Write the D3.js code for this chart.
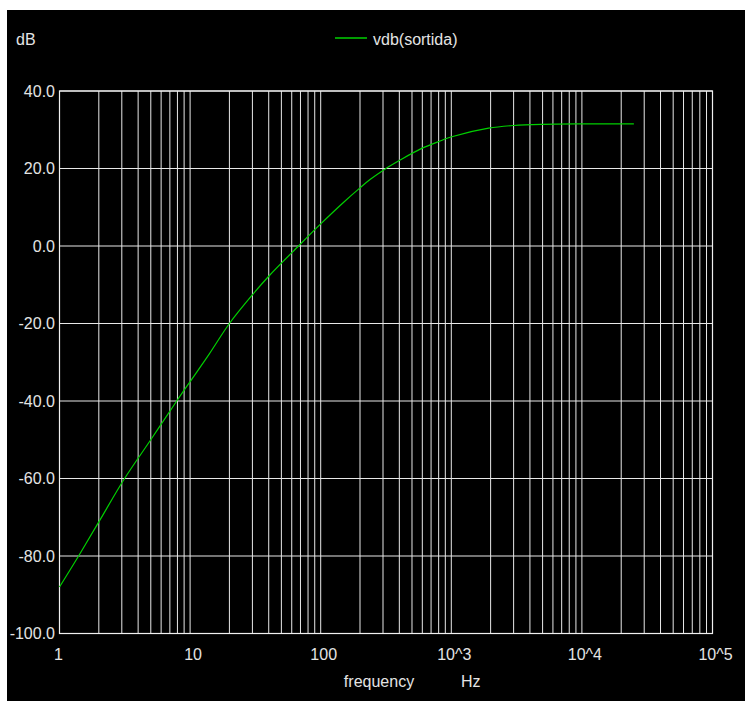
<!DOCTYPE html>
<html lang="en">
<head>
    <meta charset="UTF-8">
    <title>vdb(sortida)</title>
    <style>
        body {
            margin: 0;
            background-color: white;
        }
        text {
            font-family: "Liberation Sans", Arial, sans-serif;
            font-size: 16px;
            fill: #e4e4e4;
        }
        .grid {
            stroke: #e8e8e8;
            stroke-width: 1px;
        }
        .frame {
            fill: none;
            stroke: #f0f0f0;
            stroke-width: 1.2px;
        }
        .trace {
            fill: none;
            stroke: #00d000;
            stroke-width: 1.2px;
        }
    </style>
    <script src="https://d3js.org/d3.v7.min.js"></script>
</head>
<body>
    <script>
        // frequency response
        const freq = [1, 1.4, 2, 3.15, 5, 7.9, 10, 14, 20, 30, 40, 67.6, 100, 150, 200, 240, 312, 406, 578, 822, 1010, 1930, 3000, 5000, 10000, 25000];
        const vdb = [-88, -80, -71.2, -60, -50, -40, -35, -27.9, -20, -12.6, -7.8, 0, 5.7, 11.3, 15.0, 17.2, 19.9, 22.2, 25.0, 27.1, 28.2, 30.4, 31.1, 31.4, 31.5, 31.5];

        const xTicks = [1, 10, 100, 1000, 10000, 100000];
        const xTickLabels = ["1", "10", "100", "10^3", "10^4", "10^5"];
        const yTicks = [40, 20, 0, -20, -40, -60, -80, -100];

        const width = 745;
        const height = 701;

        const x = d3.scaleLog()
            .domain([1, 1e5])
            .range([59.5, 712.5]);

        const y = d3.scaleLinear()
            .domain([-100, 40])
            .range([633.5, 91]);

        const svg = d3.select("body").append("svg")
            .attr("width", width)
            .attr("height", height);

        svg.append("rect")
            .attr("x", 7)
            .attr("y", 10)
            .attr("width", width - 7)
            .attr("height", height - 10)
            .attr("fill", "black");

        // vertical grid: decades and 2..9 in each decade
        const xGrid = [];
        for (let d = 0; d < 5; d++) {
            for (let k = 1; k <= 9; k++) xGrid.push(k * Math.pow(10, d));
        }
        xGrid.push(1e5);

        svg.selectAll(".vgrid")
            .data(xGrid)
            .enter().append("line")
            .attr("class", "grid")
            .attr("x1", d => x(d))
            .attr("x2", d => x(d))
            .attr("y1", y(40))
            .attr("y2", y(-100));

        svg.selectAll(".hgrid")
            .data(yTicks)
            .enter().append("line")
            .attr("class", "grid")
            .attr("x1", x(1))
            .attr("x2", x(1e5))
            .attr("y1", d => y(d))
            .attr("y2", d => y(d));

        svg.append("rect")
            .attr("class", "frame")
            .attr("x", x(1))
            .attr("y", y(40))
            .attr("width", x(1e5) - x(1))
            .attr("height", y(-100) - y(40));

        // y labels
        svg.selectAll(".ylab")
            .data(yTicks)
            .enter().append("text")
            .attr("x", 55)
            .attr("y", d => y(d))
            .attr("dy", "0.35em")
            .attr("text-anchor", "end")
            .text(d => d.toFixed(1));

        // x labels
        svg.selectAll(".xlab")
            .data(xTicks)
            .enter().append("text")
            .attr("x", (d, i) => x(d) + (i === 0 ? -1 : 3))
            .attr("y", 660)
            .attr("text-anchor", "middle")
            .text((d, i) => xTickLabels[i]);

        svg.append("text")
            .attr("x", 16)
            .attr("y", 45)
            .text("dB");

        svg.append("text")
            .attr("x", 379)
            .attr("y", 687)
            .attr("text-anchor", "middle")
            .text("frequency");

        svg.append("text")
            .attr("x", 461)
            .attr("y", 687)
            .text("Hz");

        // legend
        svg.append("line")
            .attr("x1", 335)
            .attr("x2", 367)
            .attr("y1", 38)
            .attr("y2", 38)
            .attr("stroke", "#00d000")
            .attr("stroke-width", 1.5);

        svg.append("text")
            .attr("x", 373)
            .attr("y", 45)
            .text("vdb(sortida)");

        const line = d3.line()
            .x((d, i) => x(freq[i]))
            .y(d => y(d))
            .curve(d3.curveCatmullRom.alpha(0.5));

        svg.append("path")
            .attr("class", "trace")
            .attr("d", line(vdb));
    </script>
</body>
</html>
